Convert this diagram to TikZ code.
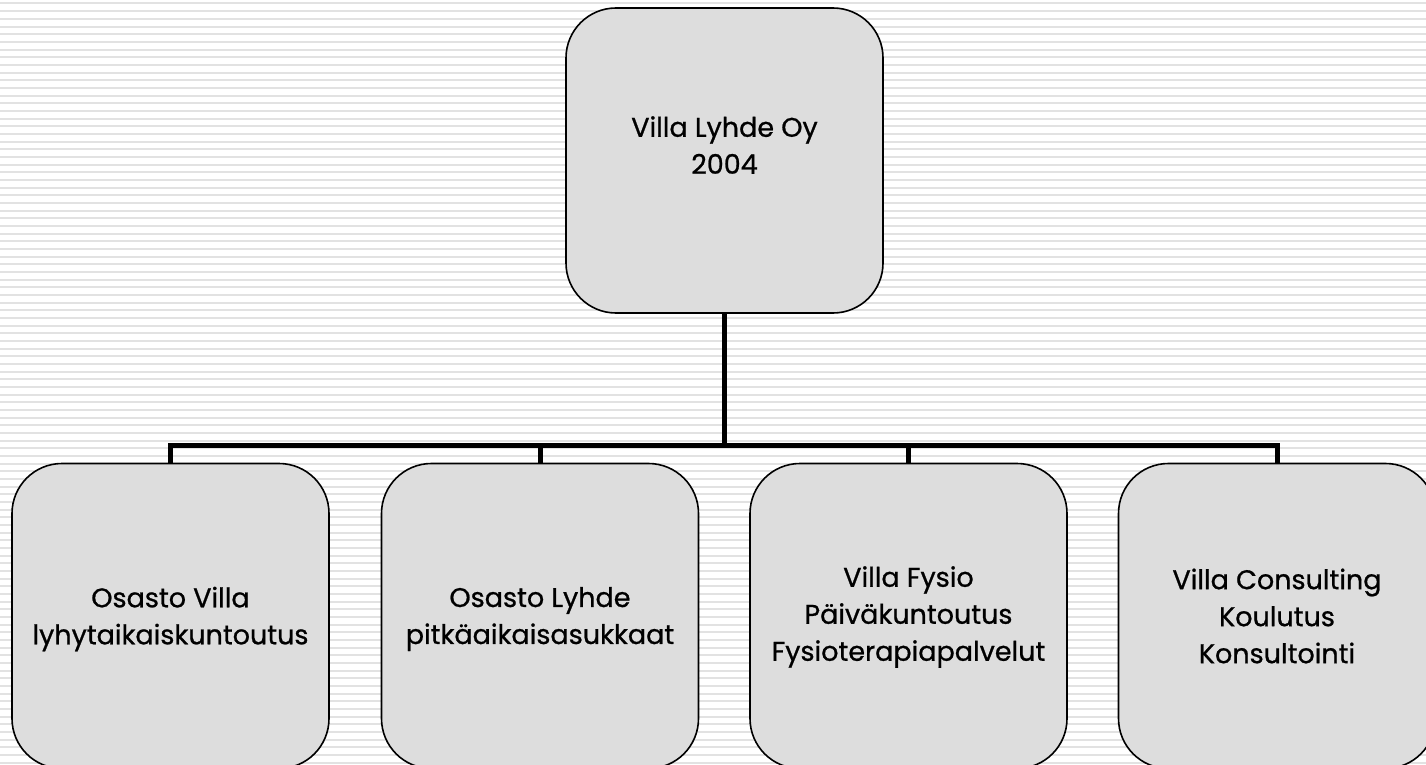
\documentclass[tikz,border=0pt]{standalone}
\usepackage{fontspec}
\setmainfont{Poppins}
\newfontfamily\boxfont{Poppins}[FakeBold=0.8]
\definecolor{stripe}{RGB}{226,226,226}
\definecolor{boxfill}{RGB}{221,221,221}
\tikzset{
  orgbox/.style={draw=black, line width=1.6pt, fill=boxfill, rounded corners=50pt,
    minimum width=317pt, minimum height=305pt, inner sep=0pt},
  boxtext/.style={align=center, font=\boxfont\fontsize{27}{37}\selectfont, text=black},
  link/.style={draw=black, line width=5pt}
}
\begin{document}
\begin{tikzpicture}[x=1pt,y=-1pt]
\useasboundingbox (0,0) rectangle (1426,765);
\fill[white] (0,0) rectangle (1426,765);
\foreach \i in {0,...,100} {
  \draw[stripe, line width=2pt] (0,{3.5+\i*7.67}) -- (1426,{3.5+\i*7.67});
}
\node[orgbox] (top) at (724.5,160.5) {};
\node[orgbox] (b1) at (170.5,616) {};
\node[orgbox] (b2) at (540,616) {};
\node[orgbox] (b3) at (908.5,616) {};
\node[orgbox] (b4) at (1277,616) {};
\node[boxtext] (ttop) at (724.5,145) {Villa Lyhde Oy\\2004};
\node[boxtext] (t1) at (170.5,619) {Osasto Villa\\lyhytaikaiskuntoutus};
\node[boxtext] (t2) at (540,619) {Osasto Lyhde\\pitkäaikaisasukkaat};
\node[boxtext] (t3) at (908.5,617) {Villa Fysio\\Päiväkuntoutus\\Fysioterapiapalvelut};
\node[boxtext] (t4) at (1277,616) {Villa Consulting\\Koulutus\\Konsultointi};
\coordinate (bus) at (724.5,445);
\draw[link] (top.south) -- (bus);
\draw[link] (b1.north) |- (bus) -| (b4.north);
\draw[link] (b2.north) -- (b2.north |- bus);
\draw[link] (b3.north) -- (b3.north |- bus);
\end{tikzpicture}
\end{document}
